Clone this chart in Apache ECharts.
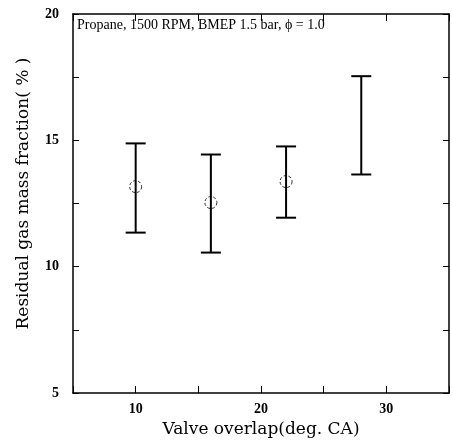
<!DOCTYPE html>
<html><head><meta charset="utf-8">
<script src="https://cdn.jsdelivr.net/npm/echarts@6/dist/echarts.min.js"></script>
<style>html,body{margin:0;padding:0;background:#fff}#c{width:452px;height:443px}</style>
</head><body><div id="c"></div>
<script>
const overlap = [10, 16, 22, 28];
const meanFrac = [13.17, 12.54, 13.37, null];
const lowFrac = [11.35, 10.56, 11.94, 13.65];
const highFrac = [14.88, 14.44, 14.76, 17.54];
const xTicks = [10, 20, 30];
const yTicks = [5, 10, 15, 20];
const note = 'Propane, 1500 RPM, BMEP 1.5 bar, \u03d5 = 1.0';

const font = 'Liberation Serif';
const titleFont = 'DejaVu Serif';
const chart = echarts.init(document.getElementById('c'));
const errData = overlap.map((x, i) => [x, lowFrac[i], highFrac[i]]);
const meanData = overlap.map((x, i) => [x, meanFrac[i]]).filter(d => d[1] != null);

const xBase = {
  type: 'value', min: 5, max: 35, interval: 5,
  axisLine: { show: true, lineStyle: { color: '#000', width: 1.5 } },
  axisTick: { show: true, inside: true, length: 7, lineStyle: { color: '#000', width: 1 } },
  splitLine: { show: false }
};
const yBase = {
  type: 'value', min: 5, max: 20, interval: 2.5,
  axisLine: { show: true, lineStyle: { color: '#000', width: 1.5 } },
  axisTick: { show: true, inside: true, length: 6, lineStyle: { color: '#000', width: 1 } },
  splitLine: { show: false }
};

chart.setOption({
  animation: false,
  backgroundColor: '#fff',
  grid: { left: 73, right: 2, top: 14, bottom: 49 },
  xAxis: [
    Object.assign({}, xBase, {
      position: 'bottom',
      name: 'Valve overlap(deg. CA)', nameLocation: 'middle', nameGap: 25,
      nameTextStyle: { fontFamily: titleFont, fontSize: 17, color: '#000' },
      axisLabel: { show: true, margin: 9, fontFamily: font, fontSize: 14, fontWeight: 'bold', color: '#000',
        formatter: v => xTicks.includes(v) ? String(v) : '' }
    }),
    Object.assign({}, xBase, { position: 'top', axisLabel: { show: false } })
  ],
  yAxis: [
    Object.assign({}, yBase, {
      position: 'left',
      name: 'Residual gas mass fraction( % )', nameLocation: 'middle', nameGap: 41,
      nameTextStyle: { fontFamily: titleFont, fontSize: 17, color: '#000', padding: [0, 0, 0, 20] },
      axisLabel: { show: true, margin: 14, fontFamily: font, fontSize: 14, fontWeight: 'bold', color: '#000',
        formatter: v => yTicks.includes(v) ? String(v) : '' }
    }),
    Object.assign({}, yBase, { position: 'right', axisLabel: { show: false } })
  ],
  graphic: [{
    type: 'text', left: 77, top: 18,
    style: { text: note, fontFamily: font, fontSize: 14, fill: '#000' }
  }],
  series: [
    {
      type: 'custom', xAxisIndex: 0, yAxisIndex: 0,
      data: errData,
      renderItem: function (params, api) {
        const x = api.value(0);
        const lo = api.coord([x, api.value(1)]);
        const hi = api.coord([x, api.value(2)]);
        const hw = 10;
        const st = { stroke: '#000', lineWidth: 2 };
        return {
          type: 'group', children: [
            { type: 'line', shape: { x1: lo[0], y1: lo[1], x2: hi[0], y2: hi[1] }, style: st },
            { type: 'line', shape: { x1: hi[0] - hw, y1: hi[1], x2: hi[0] + hw, y2: hi[1] }, style: st },
            { type: 'line', shape: { x1: lo[0] - hw, y1: lo[1], x2: lo[0] + hw, y2: lo[1] }, style: st }
          ]
        };
      }
    },
    {
      type: 'scatter', xAxisIndex: 0, yAxisIndex: 0,
      data: meanData, symbol: 'circle', symbolSize: 12,
      itemStyle: { color: 'rgba(255,255,255,0)', borderColor: '#000', borderWidth: 1, borderType: [3, 2] },
      z: 5
    }
  ]
});
</script></body></html>
